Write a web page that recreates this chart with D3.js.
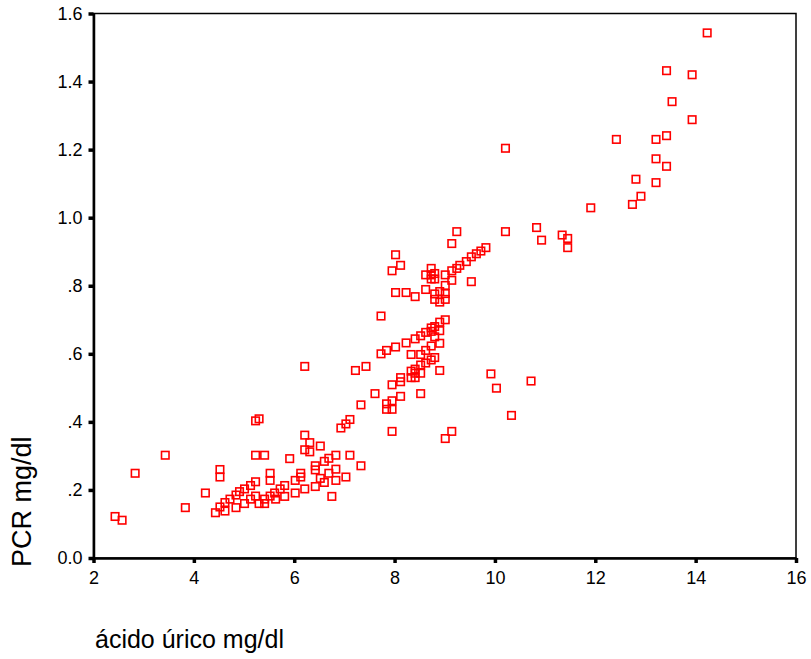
<!DOCTYPE html>
<html>
<head>
<meta charset="utf-8">
<script src="https://cdn.jsdelivr.net/npm/d3@7"></script>
<style>
body { margin: 0; background: #fff; }
text { font-family: "Liberation Sans", Arial, sans-serif; }
</style>
</head>
<body>
<svg width="811" height="659"></svg>
<script>
// acido urico (mg/dl) vs PCR (mg/dl)
var acidoUrico = [2.43, 2.57, 2.83, 3.43, 3.83, 4.23, 4.52, 4.52, 4.43, 4.52, 4.62, 4.62, 4.72, 4.84, 4.84,
  4.91, 5.01, 5.01, 5.13, 5.13, 5.23, 5.23, 5.23, 5.41, 5.23, 5.30, 5.30, 5.41, 5.41, 5.52,
  5.52, 5.52, 5.61, 5.63, 5.72, 5.81, 5.81, 5.91, 6.02, 6.02, 6.13, 6.13, 6.21, 6.21, 6.21,
  6.21, 6.31, 6.31, 6.42, 6.42, 6.42, 6.52, 6.52, 6.60, 6.60, 6.69, 6.69, 6.75, 6.83, 6.83,
  6.83, 6.93, 7.03, 7.11, 7.03, 7.11, 7.22, 7.33, 7.33, 7.43, 7.61, 7.73, 7.73, 7.84, 7.84,
  7.84, 7.95, 7.95, 7.95, 7.95, 7.95, 8.02, 8.02, 8.02, 8.12, 8.12, 8.12, 8.12, 8.23, 8.23,
  8.33, 8.33, 8.33, 8.41, 8.41, 8.41, 8.41, 8.41, 8.52, 8.52, 8.52, 8.52, 8.52, 8.62, 8.62,
  8.62, 8.62, 8.62, 8.73, 8.73, 8.73, 8.73, 8.73, 8.73, 8.73, 8.80, 8.80, 8.80, 8.80, 8.80,
  8.80, 8.80, 8.90, 8.90, 8.90, 8.90, 8.90, 8.90, 9.01, 9.01, 9.01, 9.01, 9.01, 9.01, 9.14,
  9.14, 9.14, 9.14, 9.24, 9.24, 9.30, 9.43, 9.53, 9.53, 9.63, 9.72, 9.82, 9.92, 10.03, 10.21,
  10.21, 10.33, 10.72, 10.83, 10.93, 11.34, 11.45, 11.45, 11.91, 12.42, 12.74, 12.81, 12.91, 13.21, 13.21,
  13.21, 13.42, 13.42, 13.42, 13.53, 13.93, 13.93, 14.23];
var pcr = [0.122, 0.111, 0.249, 0.302, 0.148, 0.191, 0.260, 0.238, 0.133, 0.150, 0.138, 0.163, 0.173, 0.148, 0.185,
  0.195, 0.203, 0.160, 0.213, 0.173, 0.224, 0.182, 0.302, 0.302, 0.403, 0.409, 0.160, 0.160, 0.173, 0.249,
  0.228, 0.182, 0.191, 0.173, 0.203, 0.213, 0.181, 0.292, 0.228, 0.191, 0.249, 0.238, 0.563, 0.361, 0.318,
  0.203, 0.339, 0.312, 0.271, 0.259, 0.210, 0.329, 0.234, 0.284, 0.222, 0.293, 0.249, 0.181, 0.302, 0.261,
  0.228, 0.382, 0.394, 0.407, 0.238, 0.302, 0.551, 0.450, 0.271, 0.563, 0.483, 0.711, 0.600, 0.610, 0.453,
  0.437, 0.437, 0.462, 0.509, 0.372, 0.844, 0.891, 0.780, 0.620, 0.860, 0.530, 0.518, 0.475, 0.780, 0.632,
  0.598, 0.549, 0.530, 0.768, 0.644, 0.543, 0.530, 0.555, 0.653, 0.598, 0.543, 0.483, 0.567, 0.832, 0.789,
  0.663, 0.610, 0.573, 0.851, 0.820, 0.832, 0.676, 0.666, 0.623, 0.582, 0.836, 0.820, 0.776, 0.760, 0.680,
  0.650, 0.589, 0.783, 0.752, 0.693, 0.668, 0.631, 0.551, 0.832, 0.801, 0.777, 0.760, 0.700, 0.351, 0.924,
  0.844, 0.816, 0.372, 0.959, 0.851, 0.860, 0.871, 0.885, 0.812, 0.894, 0.902, 0.912, 0.541, 0.499, 1.204,
  0.959, 0.419, 0.520, 0.971, 0.934, 0.949, 0.939, 0.912, 1.029, 1.230, 1.039, 1.113, 1.063, 1.230, 1.173,
  1.103, 1.432, 1.241, 1.151, 1.341, 1.420, 1.288, 1.543];

var xTicks = [2, 4, 6, 8, 10, 12, 14, 16];
var yTicks = [0, 0.2, 0.4, 0.6, 0.8, 1.0, 1.2, 1.4, 1.6];
var yTickLabels = ["0.0", ".2", ".4", ".6", ".8", "1.0", "1.2", "1.4", "1.6"];
var xTitle = "ácido úrico mg/dl";
var yTitle = "PCR mg/dl";

var svg = d3.select("svg");

var x = d3.scaleLinear().domain([2, 16]).range([93.5, 796]);
var y = d3.scaleLinear().domain([0, 1.6]).range([558, 13.5]);

var points = acidoUrico.map(function(d, i) { return {x: d, y: pcr[i]}; });

// frame (top + right are thin)
svg.append("rect")
  .attr("x", x(2))
  .attr("y", y(1.6))
  .attr("width", x(16) - x(2))
  .attr("height", y(0) - y(1.6))
  .attr("fill", "none")
  .attr("stroke", "#000")
  .attr("stroke-width", 1.5);

var xAxis = svg.append("g")
  .attr("transform", "translate(0," + y(0) + ")")
  .call(d3.axisBottom(x).tickValues(xTicks).tickFormat(d3.format("d")).tickSizeOuter(0).tickSizeInner(5).tickPadding(8));

var yAxis = svg.append("g")
  .attr("transform", "translate(" + x(2) + ",0)")
  .call(d3.axisLeft(y).tickValues(yTicks)
    .tickFormat(function(d, i) { return yTickLabels[i]; })
    .tickSizeOuter(0).tickSizeInner(5).tickPadding(6));

svg.selectAll(".domain")
  .attr("stroke", "#000")
  .attr("stroke-width", 2.5);

svg.selectAll(".tick line")
  .attr("stroke", "#000")
  .attr("stroke-width", 3.5);

svg.selectAll(".tick text")
  .attr("fill", "#000")
  .style("font-size", "18px");

// points
svg.append("g")
  .selectAll("rect")
  .data(points)
  .enter().append("rect")
  .attr("x", function(d) { return x(d.x) - 3.75; })
  .attr("y", function(d) { return y(d.y) - 3.75; })
  .attr("width", 7.5)
  .attr("height", 7.5)
  .attr("fill", "none")
  .attr("stroke", "#ff0000")
  .attr("stroke-width", 1.6);

// titles
svg.append("text")
  .attr("x", 95)
  .attr("y", 648)
  .style("font-size", "25px")
  .text(xTitle);

svg.append("text")
  .attr("transform", "translate(31,567) rotate(-90)")
  .style("font-size", "27px")
  .text(yTitle);
</script>
</body>
</html>
